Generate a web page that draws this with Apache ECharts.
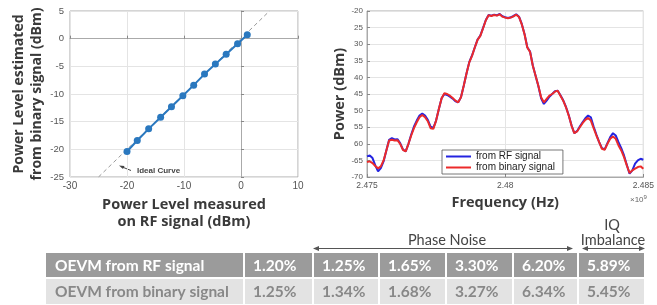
<!DOCTYPE html>
<html>
<head>
<meta charset="utf-8">
<script src="https://cdn.jsdelivr.net/npm/echarts@6.0.0/dist/echarts.min.js"></script>
<style>
html, body { margin: 0; padding: 0; background: #fff; }
#chart { width: 657px; height: 305px; }
</style>
</head>
<body>
<div id="chart"></div>
<script>
// left plot: power level measured on RF vs estimated from binary signal (dBm)
var measured  = [-20, -18.2, -16.2, -14.1, -12.2, -10.2, -8.3, -6.4, -4.5, -2.6, -0.6, 1.1];
var estimated = [-20.4, -18.4, -16.3, -14.2, -12.3, -10.3, -8.4, -6.4, -4.6, -2.8, -0.9, 0.7];
var idealX = [-25, 5];
var idealY = [-25, 5];

// right plot: spectrum, 0.1 MHz steps from 2.475 GHz
var freqGHz = [];
for (var i = 0; i <= 100; i++) freqGHz.push(2.475 + i * 0.0001);
var rfSignal = [
  -63.8, -63.5, -64.3, -66.5, -68.3, -67.3, -65.3, -62.0, -58.8, -58.3,
  -58.7, -58.6, -59.8, -61.7, -62.3, -60.0, -57.2, -54.8, -53.0, -51.5,
  -50.9, -51.5, -52.8, -54.8, -55.2, -53.0, -49.5, -46.3, -45.0, -45.3,
  -45.8, -46.4, -47.2, -47.5, -46.0, -42.5, -38.8, -35.4, -33.4, -31.0,
  -28.6, -27.4, -25.1, -22.7, -21.2, -21.4, -21.1, -21.3, -20.9, -21.6,
  -21.9, -22.1, -21.9, -21.5, -21.0, -21.7, -23.9, -26.9, -30.9, -32.2,
  -36.4, -39.5, -42.6, -46.3, -48.0, -47.0, -45.8, -45.0, -44.2, -44.0,
  -45.4, -46.9, -48.9, -51.4, -54.4, -56.8, -56.2, -54.8, -53.5, -52.3,
  -51.5, -52.0, -54.8, -57.2, -59.5, -61.3, -61.7, -59.8, -58.0, -56.8,
  -57.5, -59.5, -61.3, -63.5, -66.3, -69.0, -68.0, -66.0, -65.0, -64.5, -64.8
];
var binSignal = [
  -65.5, -65.3, -65.8, -66.7, -67.4, -66.8, -65.0, -62.0, -59.0, -58.8,
  -59.0, -58.9, -60.0, -61.8, -62.3, -60.0, -57.5, -55.3, -53.5, -52.0,
  -51.3, -52.0, -53.2, -55.3, -55.5, -53.0, -49.5, -46.3, -44.8, -45.0,
  -45.5, -46.2, -47.0, -47.5, -46.0, -42.5, -38.8, -35.5, -33.5, -31.0,
  -28.7, -27.5, -25.2, -22.8, -21.3, -21.5, -21.2, -21.4, -21.0, -21.7,
  -22.0, -22.2, -22.0, -21.6, -21.1, -21.8, -24.0, -27.0, -31.0, -32.3,
  -36.5, -39.5, -42.5, -46.0, -47.5, -46.5, -45.5, -45.0, -44.3, -44.0,
  -45.5, -47.0, -49.0, -51.5, -54.5, -56.8, -56.3, -55.0, -53.8, -52.8,
  -52.2, -53.0, -55.3, -57.5, -59.5, -61.5, -61.8, -60.0, -58.5, -57.8,
  -58.5, -60.5, -62.0, -64.0, -66.5, -68.8, -68.0, -67.5, -67.0, -66.8, -67.5
];
var freqTickLabels  = ['2.475', '2.48', '2.485'];
var powerTickLabels = ['-70', '-65', '60', '55', '50', '45', '40', '35', '30', '25', '-20'];

// table under the plots
var rowNames = ['OEVM from RF signal', 'OEVM from binary signal'];
var oevmRF  = ['1.20%', '1.25%', '1.65%', '3.30%', '6.20%', '5.89%'];
var oevmBin = ['1.25%', '1.34%', '1.68%', '3.27%', '6.34%', '5.45%'];

var tickFont = 'Liberation Sans';
var titleFont = 'Open Sans';

function valAxis(idx, opt) {
  var a = {
    type: 'value',
    gridIndex: idx,
    axisLine: { show: true, lineStyle: { color: '#aaa', width: 1 } },
    axisTick: { show: true, inside: true, length: 3, lineStyle: { color: '#888' } },
    splitLine: { show: true, lineStyle: { color: '#e4e4e4', width: 1 } },
    axisLabel: { color: '#555', fontFamily: tickFont, fontSize: 10 },
    nameLocation: 'middle',
    nameTextStyle: { fontFamily: titleFont, fontWeight: 'bold', fontSize: 14, color: '#3a3a3a', lineHeight: 18 }
  };
  for (var k in opt) a[k] = opt[k];
  return a;
}

var g = [];

// x10^9 exponent
g.push({ type: 'text', x: 630, y: 200, style: {
  text: '\u00d710{s|9}', fill: '#666', font: '8px Liberation Sans', verticalAlign: 'middle',
  rich: { s: { fontSize: 6, fill: '#666', verticalAlign: 'bottom', padding: [0, 0, 5, 0] } }
} });

// Ideal Curve annotation
g.push({ type: 'line', shape: { x1: 131, y1: 170.5, x2: 121, y2: 166.5 }, style: { stroke: '#444', lineWidth: 1 } });
g.push({ type: 'polygon', shape: { points: [[119, 165.5], [124.5, 166], [123, 169]] }, style: { fill: '#444' } });
g.push({ type: 'text', x: 137, y: 171, style: { text: 'Ideal Curve', fill: '#444', font: 'bold 8px Liberation Sans', verticalAlign: 'middle' } });

// table
var colEdges = [46, 244, 313, 379, 446, 513, 578, 645];
var rows = [
  { y: 253, h: 24, bg: '#9b9b9b', color: '#ffffff', name: rowNames[0], vals: oevmRF },
  { y: 279, h: 25, bg: '#e3e3e3', color: '#888888', name: rowNames[1], vals: oevmBin }
];
rows.forEach(function (r) {
  for (var c = 0; c < colEdges.length - 1; c++) {
    var x0 = colEdges[c] + (c ? 1 : 0);
    var x1 = colEdges[c + 1] - 1;
    g.push({ type: 'rect', shape: { x: x0, y: r.y, width: x1 - x0, height: r.h }, style: { fill: r.bg }, silent: true });
    g.push({ type: 'text', x: colEdges[c] + 9, y: r.y + r.h / 2 + 0.5, style: {
      text: c ? r.vals[c - 1] : r.name, fill: r.color, font: 'bold 15.5px Lato', verticalAlign: 'middle'
    } });
  }
});

function arrow(xa, xb, y) {
  g.push({ type: 'line', shape: { x1: xa + 3, y1: y, x2: xb - 3, y2: y }, style: { stroke: '#555', lineWidth: 1 } });
  g.push({ type: 'polygon', shape: { points: [[xa, y], [xa + 6, y - 2.5], [xa + 6, y + 2.5]] }, style: { fill: '#555' } });
  g.push({ type: 'polygon', shape: { points: [[xb, y], [xb - 6, y - 2.5], [xb - 6, y + 2.5]] }, style: { fill: '#555' } });
}
arrow(313, 573, 248.5);
arrow(582, 645, 248.5);
g.push({ type: 'text', x: 447, y: 240, style: { text: 'Phase Noise', fill: '#444', font: '14.5px Lato', align: 'center', verticalAlign: 'middle' } });
g.push({ type: 'text', x: 612, y: 225, style: { text: 'IQ', fill: '#444', font: '14.5px Lato', align: 'center', verticalAlign: 'middle' } });
g.push({ type: 'text', x: 613, y: 240, style: { text: 'Imbalance', fill: '#444', font: '14.5px Lato', align: 'center', verticalAlign: 'middle' } });

var option = {
  animation: false,
  backgroundColor: '#fff',
  grid: [
    { left: 70, top: 11, width: 228, height: 166, show: true, borderColor: '#aaa', borderWidth: 1 },
    { left: 367, top: 11, right: 12, height: 166, show: true, borderColor: '#aaa', borderWidth: 1 }
  ],
  xAxis: [
    valAxis(0, { min: -30, max: 10, interval: 10, name: 'Power Level measured\non RF signal (dBm)', nameGap: 17,
      axisLabel: { color: '#555', fontFamily: tickFont, fontSize: 10, margin: 4 },
      nameTextStyle: { fontFamily: titleFont, fontWeight: 'bold', fontSize: 14.5, color: '#3a3a3a', lineHeight: 17 } }),
    valAxis(1, { min: 2.475, max: 2.485, interval: 0.005, name: 'Frequency (Hz)', nameGap: 16,
      axisLabel: { color: '#555', fontFamily: tickFont, fontSize: 8.5, margin: 4,
        formatter: function (v) { return freqTickLabels[Math.round((v - 2.475) / 0.005)]; } },
      nameTextStyle: { fontFamily: titleFont, fontWeight: 'bold', fontSize: 14.5, color: '#3a3a3a' } })
  ],
  yAxis: [
    valAxis(0, { min: -25, max: 5, interval: 5, name: 'Power Level estimated\nfrom binary signal (dBm)', nameGap: 23,
      axisLabel: { color: '#555', fontFamily: tickFont, fontSize: 9.5, margin: 6 } }),
    valAxis(1, { min: -70, max: -20, interval: 5, name: 'Power (dBm)', nameGap: 20,
      axisLabel: { color: '#555', fontFamily: tickFont, fontSize: 8, margin: 4,
        formatter: function (v) { return powerTickLabels[Math.round((v + 70) / 5)]; } },
      nameTextStyle: { fontFamily: titleFont, fontWeight: 'bold', fontSize: 14.5, color: '#3a3a3a' } })
  ],
  legend: {
    data: ['from RF signal', 'from binary signal'],
    left: 442, top: 150, orient: 'vertical',
    backgroundColor: '#fff', borderColor: '#555', borderWidth: 0.8,
    padding: [1, 8, 1, 4], itemGap: 0, itemWidth: 25, itemHeight: 2, icon: 'rect',
    textStyle: { fontFamily: tickFont, fontSize: 10, color: '#222', lineHeight: 11 }
  },
  series: [
    { type: 'line', xAxisIndex: 0, yAxisIndex: 0, symbol: 'none', silent: true,
      data: idealX.map(function (x, i) { return [x, idealY[i]]; }),
      lineStyle: { color: '#9a9a9a', width: 1, type: [4, 3] } },
    { type: 'line', xAxisIndex: 0, yAxisIndex: 0, symbol: 'circle', symbolSize: 7,
      data: measured.map(function (x, i) { return [x, estimated[i]]; }),
      itemStyle: { color: '#2a78bf' }, lineStyle: { color: '#2a78bf', width: 2 } },
    { name: 'from RF signal', type: 'line', xAxisIndex: 1, yAxisIndex: 1, symbol: 'none',
      data: freqGHz.map(function (f, i) { return [f, rfSignal[i]]; }),
      itemStyle: { color: '#2424e0' }, lineStyle: { color: '#2424e0', width: 2 } },
    { name: 'from binary signal', type: 'line', xAxisIndex: 1, yAxisIndex: 1, symbol: 'none',
      data: freqGHz.map(function (f, i) { return [f, binSignal[i]]; }),
      itemStyle: { color: '#ec2a2a' }, lineStyle: { color: '#ec2a2a', width: 2 } }
  ],
  graphic: g
};

var chart = echarts.init(document.getElementById('chart'));
chart.setOption(option);
</script>
</body>
</html>
